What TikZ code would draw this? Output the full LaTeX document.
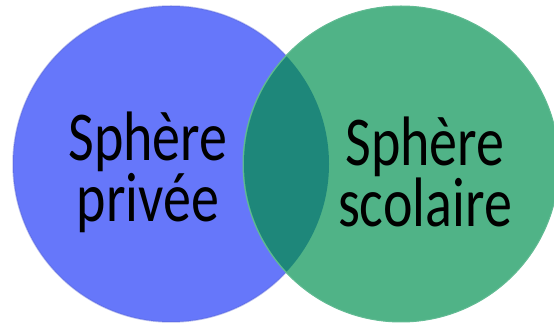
\documentclass[tikz,border=0pt]{standalone}
\usepackage{fontspec}
\setmainfont{Carlito}
\usepackage{tikz}
\usetikzlibrary{positioning}
\definecolor{spherebleu}{RGB}{102, 119, 250}
\definecolor{spherevert}{RGB}{80, 179, 135}
\definecolor{lensteal}{RGB}{30, 135, 122}

\begin{document}
\begin{tikzpicture}[x=1pt, y=1pt,
				sphere/.style={circle, inner sep=0pt, minimum size=316pt},
				label/.style={align=center, inner sep=0pt, yscale=1.25, transform shape, font=\fontsize{56}{42}\selectfont}
				]
				\useasboundingbox (0, 0) rectangle (554, 329);
				
				% Left: private sphere
				\node[sphere, fill=spherebleu, draw=spherebleu!85!black, draw opacity=0.4, line width=1.5pt] (prive) at (171, 165) {};
				
				% Right: school sphere
				\node[sphere, fill=spherevert, draw=spherevert!90!white, line width=1pt] (scolaire) at (401, 165) {};
				
				% Overlap
				\begin{scope}
					\clip (prive.center) circle (158);
					\fill[lensteal] (scolaire.center) circle (157);
				\end{scope}
				
				% Labels
				\node[label] (tprive) at (148, 157) {Sphère\\privée};
				\node[label] (tscolaire) at (425, 157) {Sphère\\scolaire};
			\end{tikzpicture}
\end{document}
